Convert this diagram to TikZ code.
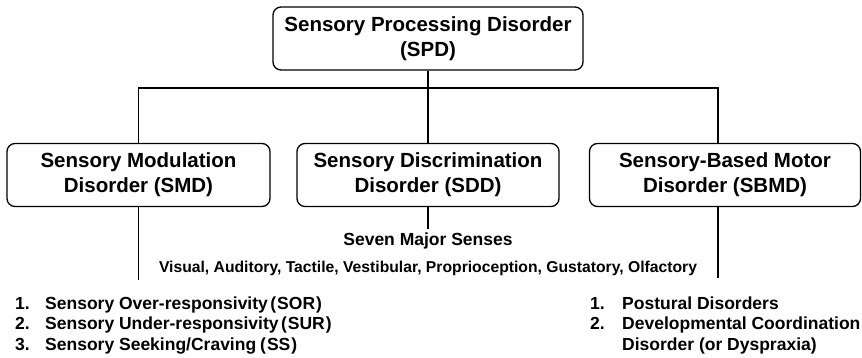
\documentclass[tikz,border=0pt]{standalone}
\usepackage{fontspec}
\setmainfont{Liberation Sans}
\begin{document}
\begin{tikzpicture}[x=1pt,y=-1pt,
  box/.style={draw, line width=1.3pt, rounded corners=8pt, align=center,
    font=\bfseries\fontsize{20.5}{25}\selectfont, inner sep=0pt},
  conn/.style={line width=1.6pt},
  lst/.style={anchor=base west, font=\bfseries\fontsize{17.5}{20}\selectfont, inner sep=0pt}]
\useasboundingbox (0,0) rectangle (862,358);
% boxes
\node[box, minimum width=310pt, minimum height=63pt] (spd) at (428,38.5) {Sensory Processing Disorder\\(SPD)};
\node[box, minimum width=263pt, minimum height=63pt] (smd) at (138.5,175) {Sensory Modulation\\Disorder (SMD)};
\node[box, minimum width=262pt, minimum height=63pt] (sdd) at (428,175) {Sensory Discrimination\\Disorder (SDD)};
\node[box, minimum width=271pt, minimum height=63pt] (sbmd) at (725,175) {Sensory-Based Motor\\Disorder (SBMD)};
% bus
\coordinate (bl) at (137.5,88);
\coordinate (br) at (718,88);
\draw[conn] (spd.south) -- (sdd.north);
\draw[conn] (smd.north) -- (smd.north |- bl) -- (br) -- (br |- sbmd.north);
% texts
\node[anchor=base, inner sep=3pt, font=\bfseries\fontsize{17.5}{20}\selectfont] (seven) at (428,245) {Seven Major Senses};
\node[anchor=base, inner sep=0pt, font=\bfseries\fontsize{15.7}{18}\selectfont] (senses) at (428,272) {Visual, Auditory, Tactile, Vestibular, Proprioception, Gustatory, Olfactory};
\draw[conn] (sdd.south) -- (seven.north);
\coordinate (smdend) at (smd.south |- 0,280);
\coordinate (sbmdend) at (br |- 0,278);
\draw[conn] (smd.south) -- (smdend);
\draw[conn] (br |- sbmd.south) -- (sbmdend);
% left list
\node[lst] (ln1) at (15,309) {1.};
\node[lst] (lt1) at (45,309) {Sensory Over-responsivity\kern2.5pt(\kern1pt SOR\kern1pt)};
\node[lst] (ln2) at (15,329.5) {2.};
\node[lst] (lt2) at (45,329.5) {Sensory Under-responsivity\kern2.5pt(\kern1pt SUR\kern1pt)};
\node[lst] (ln3) at (15,350) {3.};
\node[lst] (lt3) at (45,350) {Sensory Seeking/Craving\kern4pt(\kern1pt SS\kern1pt)};
% right list
\node[lst] (rn1) at (590,309) {1.};
\node[lst] (rt1) at (622,309) {Postural Disorders};
\node[lst] (rn2) at (590,329.5) {2.};
\node[lst] (rt2) at (622,329.5) {Developmental Coordination};
\node[lst] (rt3) at (622,350) {Disorder (or Dyspraxia)};
\end{tikzpicture}
\end{document}
